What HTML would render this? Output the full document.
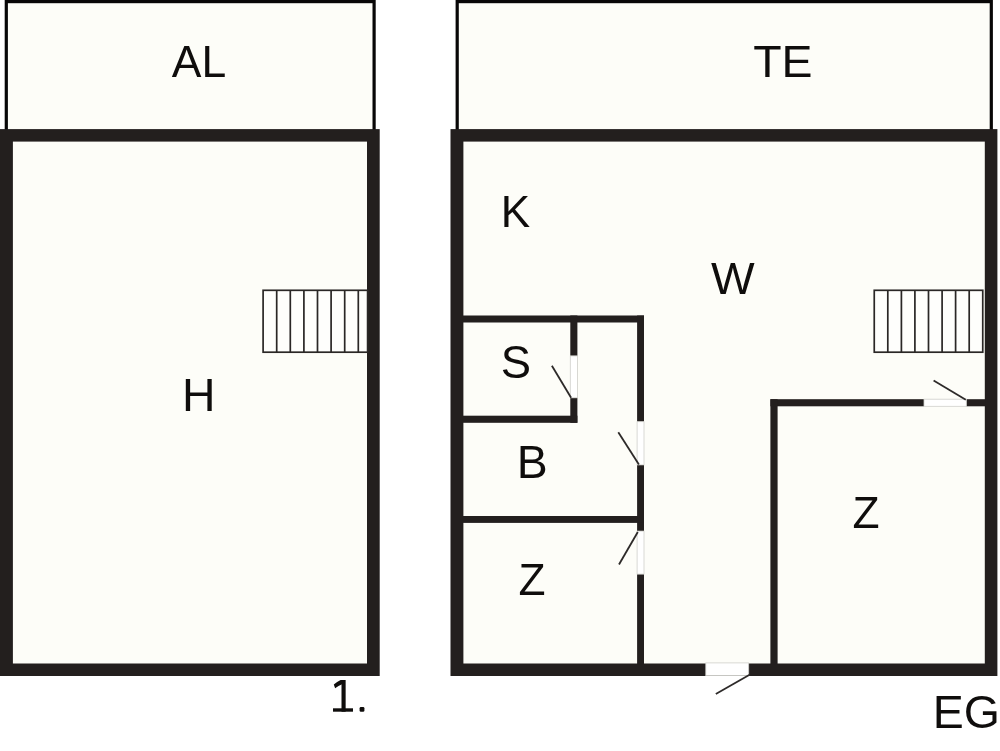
<!DOCTYPE html>
<html>
<head>
<meta charset="utf-8">
<style>
html,body{margin:0;padding:0;background:#ffffff;}
body{width:1000px;height:751px;overflow:hidden;position:relative;}
svg{position:absolute;left:0;top:0;display:block;will-change:transform;}
text{font-family:"Liberation Sans",sans-serif;fill:#0f0d0c;}
</style>
</head>
<body>
<svg width="1000" height="751" viewBox="0 0 1000 751">
  <!-- terrace / balcony boxes -->
  <rect x="6.3" y="1.6" width="367.8" height="130" fill="#fdfdf8" stroke="#080707" stroke-width="3.2"/>
  <rect x="457.2" y="1.6" width="534.1" height="130" fill="#fdfdf8" stroke="#080707" stroke-width="3.2"/>

  <!-- left building (1. OG) -->
  <rect x="0" y="129.1" width="379.7" height="546.9" fill="#231f1e"/>
  <rect x="12.9" y="141.6" width="354.1" height="521.9" fill="#fdfdf8"/>

  <!-- right building (EG) -->
  <rect x="450.5" y="129.1" width="546.9" height="546.9" fill="#231f1e"/>
  <rect x="463.4" y="141.6" width="521.4" height="521.9" fill="#fdfdf8"/>

  <!-- interior walls -->
  <g fill="#231f1e">
    <rect x="463" y="315.5" width="181" height="7"/>
    <rect x="570.3" y="315.5" width="7.1" height="40.4"/>
    <rect x="570.3" y="397.8" width="7.1" height="25"/>
    <rect x="463" y="415.7" width="114.4" height="7.1"/>
    <rect x="637.1" y="315.5" width="6.9" height="106.2"/>
    <rect x="637.1" y="464.9" width="6.9" height="66.2"/>
    <rect x="637.1" y="574.1" width="6.9" height="90"/>
    <rect x="463" y="516" width="181" height="6.9"/>
    <rect x="770.4" y="399.2" width="153.6" height="7.1"/>
    <rect x="966.3" y="399.2" width="19" height="7.1"/>
    <rect x="770.4" y="399.2" width="7.2" height="265"/>
  </g>

  <!-- door openings -->
  <g fill="#ffffff" stroke="#cfcfca" stroke-width="0.8">
    <rect x="570.3" y="355.9" width="7.1" height="41.9"/>
    <rect x="637.1" y="421.7" width="6.9" height="43.2"/>
    <rect x="637.1" y="531.1" width="6.9" height="43"/>
    <rect x="924" y="399.2" width="42.3" height="7.1"/>
    <rect x="705.8" y="662.9" width="42.9" height="12.7"/>
  </g>
  <g stroke="#2d2a29" stroke-width="1.8" stroke-linecap="butt">
    <line x1="551.9" y1="365.8" x2="571.1" y2="397.8"/>
    <line x1="618.3" y1="432.2" x2="638.9" y2="464.4"/>
    <line x1="637.8" y1="532" x2="619" y2="564.5"/>
    <line x1="933.6" y1="380.6" x2="965.8" y2="399.7"/>
    <line x1="750" y1="674.5" x2="715.8" y2="694"/>
  </g>

  <!-- stairs left -->
  <g fill="none" stroke="#2a2726" stroke-width="1.7">
    <rect x="263.1" y="290.3" width="104.5" height="61.9" fill="#fefefc"/>
    <path d="M276.7 290.3V352.2M290.3 290.3V352.2M303.9 290.3V352.2M317.5 290.3V352.2M331.1 290.3V352.2M344.7 290.3V352.2M358.3 290.3V352.2"/>
  </g>
  <!-- stairs right -->
  <g fill="none" stroke="#2a2726" stroke-width="1.7">
    <rect x="874.25" y="290.3" width="108.5" height="61.9" fill="#fefefc"/>
    <path d="M887.8 290.3V352.2M901.4 290.3V352.2M914.9 290.3V352.2M928.5 290.3V352.2M942.1 290.3V352.2M955.6 290.3V352.2M969.2 290.3V352.2"/>
  </g>

  <!-- labels -->
  <text x="171.71" y="76.90" font-size="44.5">AL</text>
  <text transform="translate(753.16 76.90) scale(1.027 1)" font-size="45.2">TE</text>
  <text transform="translate(500.68 227.20) scale(0.98 1)" font-size="45">K</text>
  <text transform="translate(711.10 293.50) scale(1.033 1)" font-size="44.8">W</text>
  <text x="182.09" y="411.20" font-size="46.4">H</text>
  <text x="500.84" y="377.61" font-size="45.4">S</text>
  <text x="516.79" y="477.80" font-size="46.4">B</text>
  <text transform="translate(518.50 594.65) scale(0.98 1)" font-size="45.1">Z</text>
  <text x="852.59" y="527.50" font-size="44.3">Z</text>
  <text x="932.69" y="728.20" font-size="46.5">EG</text>

  <!-- "1." (footed one) -->
  <g fill="#0f0d0c">
    <path d="M341.5 680H345.65V711.7H341.5Z"/>
    <path d="M342.5 680H340.6Q337 681.6 333.8 684.4L335.1 688.2Q338.5 686 342 684.3Z"/>
    <path d="M333 708.3H353V711.7H333Z"/>
    <rect x="359.6" y="707" width="4.8" height="4.7" rx="1.3"/>
  </g>
</svg>
</body>
</html>
